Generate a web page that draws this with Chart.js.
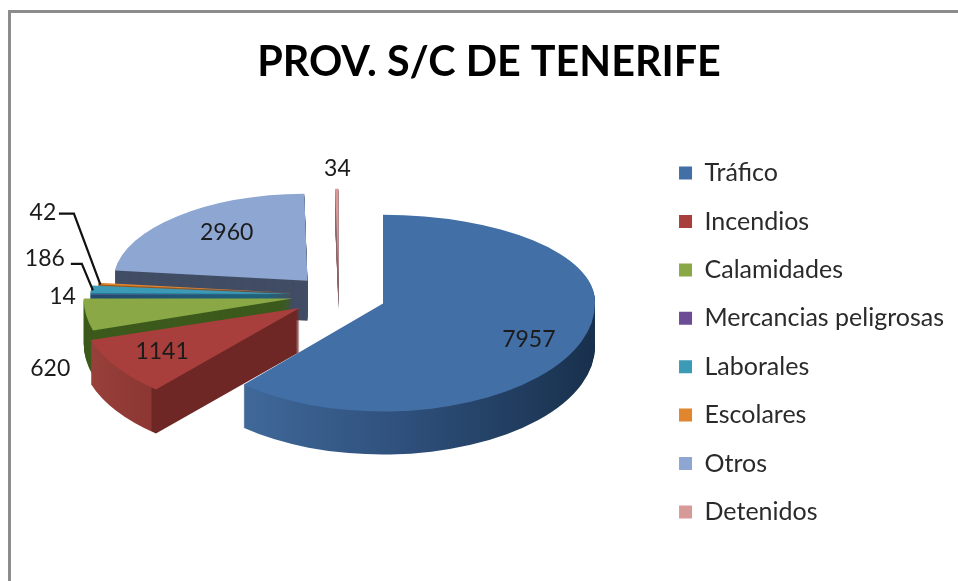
<!DOCTYPE html>
<html><head><meta charset="utf-8">
<style>
html,body{margin:0;padding:0;background:#fff;width:958px;height:581px;overflow:hidden}
#wrap{position:absolute;left:0;top:0;width:958px;height:581px}
#frame{position:absolute;left:8px;top:10px;right:0;bottom:0;border-left:3px solid #8c8c8c;border-top:3px solid #8c8c8c;pointer-events:none}
canvas{position:absolute;left:0;top:0}
</style>
<script src="https://cdn.jsdelivr.net/npm/chart.js@4"></script>
</head><body>
<div id="wrap"><canvas id="c" width="958" height="581"></canvas><div id="frame"></div></div>
<script>
const chartTitle = 'PROV. S/C DE TENERIFE';
const categories = ['Tráfico','Incendios','Calamidades','Mercancias peligrosas','Laborales','Escolares','Otros','Detenidos'];
const values = [7957,1141,620,14,186,42,2960,34];

const topColors  = ['#426fa6','#a83f3c','#8aa946','#6b4c95','#3b9ab6','#e0862e','#8ea6d2','#d89a98'];
const legendColors = topColors;
const wallColors = [null,null,'#3c5a1c','#2a2a5c','#1f6a80','#9c5a1c','#414d64','#8a6a70'];
const depths     = [43,44,45,40,40,40,40,34];
const radialFit  = [1,1.03,.985,.95,.95,.92,.915,1];
const drawOrder  = [7,6,5,4,3,2,1,0];
const labelRadius = [.75,.74,1.125,1.075,1.09,1.09,.56,1.23];
const labelNudge  = [[-3,8],[-2,0],[-10,52],[-13,2],[-28,-30],[-38,-70],[-8,-12],[1,0]];

const RADIUS = 212, EXPLODE = 47, SQUASH_BACK = .41, SQUASH_FRONT = .51;
const CENTER_X = 339, CENTER_Y = 295, LEGEND_DROP = 52;

const pie3d = {
  id:'pie3d',
  afterLayout(chart){
    chart.legend.top += LEGEND_DROP;
    chart.legend.bottom += LEGEND_DROP;
  },
  beforeDatasetsDraw(chart){
    const ctx = chart.ctx, meta = chart.getDatasetMeta(0), W = chart.width, H = chart.height;
    const split = CENTER_Y;
    // screen x -> x in the arc's own drawing space
    const toUser = (el,i,X) => {
      const mid = (el.startAngle + el.endAngle)/2;
      return el.x + (X - CENTER_X - Math.cos(mid)*EXPLODE)/radialFit[i];
    };
    const wallFill = i => {
      const el = meta.data[i];
      if(i===0){
        const g = ctx.createLinearGradient(toUser(el,i,245),0,toUser(el,i,595),0);
        g.addColorStop(0,'#3f6899'); g.addColorStop(.45,'#2f507c'); g.addColorStop(1,'#18304c');
        return g;
      }
      if(i===1){
        const g = ctx.createLinearGradient(toUser(el,i,90),0,toUser(el,i,300),0);
        g.addColorStop(0,'#98403a'); g.addColorStop(.29,'#8c3733'); g.addColorStop(.295,'#6e2725'); g.addColorStop(1,'#6e2725');
        return g;
      }
      return wallColors[i];
    };
    const surface = (el,i,k,fill) => {
      const mid = (el.startAngle + el.endAngle)/2;
      const orig = el.options;
      const o = Object.create(orig);
      Object.defineProperty(o,'backgroundColor',{value:fill});
      Object.defineProperty(o,'borderWidth',{value:0});
      Object.defineProperty(o,'offset',{value:0});
      el.options = o;
      [[0,split+k,SQUASH_BACK],[split+k,H,SQUASH_FRONT]].forEach(([y0,y1,s])=>{
        ctx.save();
        ctx.beginPath(); ctx.rect(0,y0,W,y1-y0); ctx.clip();
        ctx.translate(CENTER_X - el.x,split+k);
        ctx.scale(1,s);
        ctx.translate(0,-el.y);
        ctx.translate(Math.cos(mid)*EXPLODE,Math.sin(mid)*EXPLODE);
        ctx.translate(el.x,el.y);
        ctx.scale(radialFit[i],1);
        ctx.translate(-el.x,-el.y);
        el.draw(ctx);
        ctx.restore();
      });
      el.options = orig;
    };
    drawOrder.forEach(i=>{
      const el = meta.data[i], fill = wallFill(i);
      for(let k=depths[i];k>=1;k--) surface(el,i,k,fill);
      surface(el,i,0,topColors[i]);
    });

    // projected point on the pie's top surface, from the library's arc geometry
    const project = (el,i,r) => {
      const mid = (el.startAngle + el.endAngle)/2;
      const py = Math.sin(mid)*(EXPLODE + el.outerRadius*r);
      return {x: CENTER_X + Math.cos(mid)*EXPLODE + Math.cos(mid)*el.outerRadius*r*radialFit[i],
              y: split + py*(py<0?SQUASH_BACK:SQUASH_FRONT)};
    };
    const lbl = i => {
      const p = project(meta.data[i],i,labelRadius[i]);
      return {x:p.x+labelNudge[i][0], y:p.y+labelNudge[i][1]};
    };
    // leader lines for the two thin slices
    ctx.save();
    ctx.strokeStyle = '#111'; ctx.lineWidth = 2.2; ctx.lineJoin='miter';
    [5,4].forEach(i=>{
      const a = lbl(i), tip = project(meta.data[i],i,1);
      ctx.beginPath();
      ctx.moveTo(a.x+(i===5?16:26), a.y+(i===5?1:5));
      ctx.lineTo(a.x+(i===5?31:37), a.y+(i===5?1:5));
      ctx.lineTo(tip.x+2, tip.y+1);
      ctx.stroke();
    });
    ctx.fillStyle = '#1b1b1b';
    ctx.font = '23px Lato';
    ctx.textAlign='center'; ctx.textBaseline='middle';
    values.forEach((v,i)=>{ const p = lbl(i); ctx.fillText(String(v),p.x,p.y); });
    ctx.restore();
    return false;
  }
};

Chart.defaults.font.family = 'Lato';
new Chart(document.getElementById('c'),{
  type:'pie',
  data:{labels:categories,datasets:[{data:values,backgroundColor:legendColors,borderWidth:0,offset:0}]},
  plugins:[pie3d],
  options:{
    responsive:false,animation:false,
    radius:RADIUS,
    layout:{padding:{left:24,right:4,top:0,bottom:0}},
    plugins:{
      title:{display:true,text:chartTitle,color:'#000',font:{size:41.3,weight:'bold',family:'Lato'},padding:{top:38,bottom:44}},
      legend:{position:'right',labels:{color:'#2a2a2a',font:{size:25,family:'Lato'},boxWidth:13,boxHeight:13,padding:23.4}},
      tooltip:{enabled:false}
    }
  }
});
</script>
</body></html>
